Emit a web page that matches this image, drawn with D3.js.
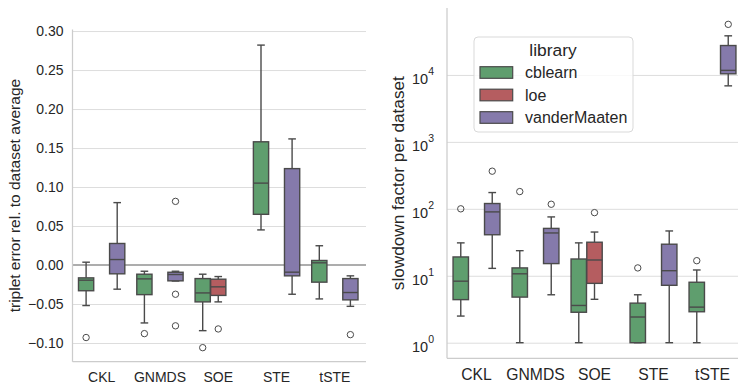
<!DOCTYPE html>
<html>
<head>
<meta charset="utf-8">
<script src="https://cdn.jsdelivr.net/npm/d3@7"></script>
<style>
  body { margin: 0; background: #fff; }
  svg { display: block; font-family: "Liberation Sans", Arial, sans-serif; fill: #262626; }
  .grid line { stroke: #dddddd; stroke-width: 1; }
  .grid .domain { display: none; }
  .spine { stroke: #cccccc; stroke-width: 1.25; }
  .box line, .box rect, .box circle { stroke: #4a4a4a; stroke-width: 1.4; }
</style>
</head>
<body>
<div id="chart"></div>
<script>
// categories and hue levels
var categories = ["CKL", "GNMDS", "SOE", "STE", "tSTE"];
var libraries = ["cblearn", "loe", "vanderMaaten"];
var libColors = ["#5f9e6e", "#b55d60", "#857aab"];

// triplet error boxes: category, library, whisker low, q1, median, q3, whisker high
var errorBoxes = [
  ["CKL", "cblearn", -0.052, -0.033, -0.0195, -0.0165, 0.0036],
  ["CKL", "vanderMaaten", -0.031, -0.0113, 0.007, 0.0276, 0.080],
  ["GNMDS", "cblearn", -0.0743, -0.038, -0.0178, -0.0118, -0.008],
  ["GNMDS", "vanderMaaten", -0.0205, -0.0203, -0.0122, -0.0093, -0.008],
  ["SOE", "cblearn", -0.0842, -0.0473, -0.0358, -0.0174, -0.0118],
  ["SOE", "loe", -0.0473, -0.039, -0.028, -0.0182, -0.0148],
  ["STE", "cblearn", 0.045, 0.065, 0.105, 0.158, 0.282],
  ["STE", "vanderMaaten", -0.0375, -0.0139, -0.0092, 0.1236, 0.1617],
  ["tSTE", "cblearn", -0.0435, -0.022, 0.0028, 0.0058, 0.0247],
  ["tSTE", "vanderMaaten", -0.053, -0.0447, -0.0353, -0.0174, -0.0139]
];
var errorOutliers = [
  ["CKL", "cblearn", -0.093],
  ["GNMDS", "cblearn", -0.088],
  ["GNMDS", "vanderMaaten", 0.0816],
  ["GNMDS", "vanderMaaten", -0.0375],
  ["GNMDS", "vanderMaaten", -0.078],
  ["SOE", "cblearn", -0.106],
  ["SOE", "loe", -0.082],
  ["tSTE", "vanderMaaten", -0.0893]
];
var errorTicks = [-0.10, -0.05, 0.00, 0.05, 0.10, 0.15, 0.20, 0.25, 0.30];

// slowdown boxes: category, library, whisker low, q1, median, q3, whisker high
var slowBoxes = [
  ["CKL", "cblearn", 2.5, 4.4, 8.3, 19.1, 31],
  ["CKL", "vanderMaaten", 12.9, 41, 90, 120, 175],
  ["GNMDS", "cblearn", 1, 4.8, 10.7, 13.1, 23.7],
  ["GNMDS", "vanderMaaten", 5.2, 15.2, 43.6, 51, 75.7],
  ["SOE", "cblearn", 1, 2.85, 3.6, 17.8, 31],
  ["SOE", "loe", 4.45, 7.7, 17.2, 31.7, 45],
  ["STE", "cblearn", 1, 1, 2.42, 3.9, 5.2],
  ["STE", "vanderMaaten", 1, 7.2, 11.9, 29.6, 46.7],
  ["tSTE", "cblearn", 1, 2.9, 3.4, 8.0, 12.2],
  ["tSTE", "vanderMaaten", 6870, 10400, 11700, 27500, 38400]
];
var slowOutliers = [
  ["CKL", "cblearn", 100],
  ["CKL", "vanderMaaten", 365],
  ["GNMDS", "cblearn", 181],
  ["GNMDS", "vanderMaaten", 117],
  ["SOE", "loe", 87.7],
  ["STE", "cblearn", 13.1],
  ["tSTE", "cblearn", 16.8],
  ["tSTE", "vanderMaaten", 57000]
];
var slowTicks = [1, 10, 100, 1000, 10000];

var svg = d3.select("#chart").append("svg")
    .attr("width", 738)
    .attr("height", 385);

var color = d3.scaleOrdinal().domain(libraries).range(libColors);

// draws the dodged boxes of one panel
function drawBoxes(g, x, y, boxes, outliers) {
  var hue = d3.scaleBand()
      .domain(libraries)
      .range([x.bandwidth() * 0.1, x.bandwidth() * 0.9]);
  var bw = hue.bandwidth() * 0.98;

  var box = g.selectAll(".box")
    .data(boxes)
    .enter().append("g")
      .attr("class", "box")
      .attr("transform", function(d) {
        return "translate(" + (x(d[0]) + hue(d[1]) + hue.bandwidth() / 2) + ",0)";
      });

  box.append("line")
      .attr("y1", function(d) { return y(d[2]); })
      .attr("y2", function(d) { return y(d[3]); });
  box.append("line")
      .attr("y1", function(d) { return y(d[5]); })
      .attr("y2", function(d) { return y(d[6]); });
  box.append("line")
      .attr("x1", -bw / 4).attr("x2", bw / 4)
      .attr("y1", function(d) { return y(d[2]); })
      .attr("y2", function(d) { return y(d[2]); });
  box.append("line")
      .attr("x1", -bw / 4).attr("x2", bw / 4)
      .attr("y1", function(d) { return y(d[6]); })
      .attr("y2", function(d) { return y(d[6]); });
  box.append("rect")
      .attr("x", -bw / 2)
      .attr("width", bw)
      .attr("y", function(d) { return y(d[5]); })
      .attr("height", function(d) { return y(d[3]) - y(d[5]); })
      .style("fill", function(d) { return color(d[1]); });
  box.append("line")
      .attr("x1", -bw / 2).attr("x2", bw / 2)
      .attr("y1", function(d) { return y(d[4]); })
      .attr("y2", function(d) { return y(d[4]); });

  g.selectAll(".flier")
    .data(outliers)
    .enter().append("g")
      .attr("class", "box flier")
    .append("circle")
      .attr("cx", function(d) { return x(d[0]) + hue(d[1]) + hue.bandwidth() / 2; })
      .attr("cy", function(d) { return y(d[2]); })
      .attr("r", 3.2)
      .style("fill", "none")
      .style("stroke-width", 1);
}

// ---- left panel: triplet error ----
var left = {x0: 72.5, x1: 364, top: 29.5, bottom: 361.7};

var xL = d3.scaleBand().domain(categories).range([left.x0, left.x1]);
var yL = d3.scaleLinear().domain([-0.124, 0.302]).range([left.bottom, left.top]);

var gL = svg.append("g");

gL.append("g")
    .attr("class", "grid")
    .attr("transform", "translate(" + left.x0 + ",0)")
    .call(d3.axisLeft(yL)
        .tickValues(errorTicks)
        .tickFormat(d3.format(".2f"))
        .tickSize(-(left.x1 + 2 - left.x0))
        .tickPadding(9))
  .selectAll("text")
    .style("font-size", "14px")
    .style("fill", "#262626");

// zero reference line
gL.append("line")
    .attr("x1", left.x0).attr("x2", left.x1 + 2)
    .attr("y1", yL(0)).attr("y2", yL(0))
    .style("stroke", "#adadad")
    .style("stroke-width", 2);

drawBoxes(gL, xL, yL, errorBoxes, errorOutliers);

gL.append("line").attr("class", "spine")
    .attr("x1", left.x0).attr("x2", left.x0)
    .attr("y1", left.top).attr("y2", left.bottom);
gL.append("line").attr("class", "spine")
    .attr("x1", left.x0).attr("x2", left.x1 + 2)
    .attr("y1", left.bottom).attr("y2", left.bottom);

gL.append("g")
    .attr("transform", "translate(0," + left.bottom + ")")
    .call(d3.axisBottom(xL).tickSize(0).tickPadding(10))
    .call(function(a) { a.select(".domain").remove(); })
  .selectAll("text")
    .style("font-size", "14px")
    .style("fill", "#262626");

gL.append("text")
    .attr("transform", "translate(20," + ((left.top + left.bottom) / 2) + ") rotate(-90)")
    .attr("text-anchor", "middle")
    .style("font-size", "15.5px")
    .text("triplet error rel. to dataset average");

// ---- right panel: slowdown factor ----
var right = {x0: 447, x1: 742, top: 8, bottom: 358.3};

var xR = d3.scaleBand().domain(categories).range([right.x0, right.x1]);
var yR = d3.scaleLog().domain([Math.pow(10, -0.233), Math.pow(10, 5.0)]).range([right.bottom, right.top]);

var gR = svg.append("g");

var yAxisR = gR.append("g")
    .attr("class", "grid")
    .attr("transform", "translate(" + right.x0 + ",0)")
    .call(d3.axisLeft(yR)
        .tickValues(slowTicks)
        .tickFormat("")
        .tickSize(-(right.x1 - right.x0)));

yAxisR.selectAll(".tick").append("text")
    .attr("x", -13)
    .attr("dy", 9)
    .attr("text-anchor", "end")
    .style("font-size", "14.5px")
    .style("fill", "#262626")
    .each(function(d) {
      var t = d3.select(this);
      t.append("tspan").text("10");
      t.append("tspan")
          .attr("dy", -9)
          .style("font-size", "10.5px")
          .text(Math.round(Math.log10(d)));
    });

drawBoxes(gR, xR, yR, slowBoxes, slowOutliers);

gR.append("line").attr("class", "spine")
    .attr("x1", right.x0).attr("x2", right.x0)
    .attr("y1", right.top).attr("y2", right.bottom);
gR.append("line").attr("class", "spine")
    .attr("x1", right.x0).attr("x2", right.x1)
    .attr("y1", right.bottom).attr("y2", right.bottom);

gR.append("g")
    .attr("transform", "translate(0," + right.bottom + ")")
    .call(d3.axisBottom(xR).tickSize(0).tickPadding(10.5))
    .call(function(a) { a.select(".domain").remove(); })
  .selectAll("text")
    .style("font-size", "15.7px")
    .style("fill", "#262626");

gR.append("text")
    .attr("transform", "translate(404," + ((right.top + right.bottom) / 2) + ") rotate(-90)")
    .attr("text-anchor", "middle")
    .style("font-size", "17.2px")
    .text("slowdown factor per dataset");

// legend
var legend = gR.append("g").attr("transform", "translate(474,37)");

legend.append("rect")
    .attr("width", 159)
    .attr("height", 95)
    .attr("rx", 4)
    .style("fill", "#fff")
    .style("fill-opacity", 0.8)
    .style("stroke", "#d9d9d9");

legend.append("text")
    .attr("x", 79)
    .attr("y", 19)
    .attr("text-anchor", "middle")
    .style("font-size", "17.4px")
    .text("library");

var item = legend.selectAll(".item")
  .data(libraries)
  .enter().append("g")
    .attr("class", "item")
    .attr("transform", function(d, i) { return "translate(6," + (41.3 + i * 22.5) + ")"; });

item.append("rect")
    .attr("y", -11.6)
    .attr("width", 32.7)
    .attr("height", 11.6)
    .style("fill", function(d) { return color(d); })
    .style("stroke", "#4a4a4a")
    .style("stroke-width", 1.2);

item.append("text")
    .attr("x", 45)
    .style("font-size", "16px")
    .text(function(d) { return d; });
</script>
</body>
</html>
